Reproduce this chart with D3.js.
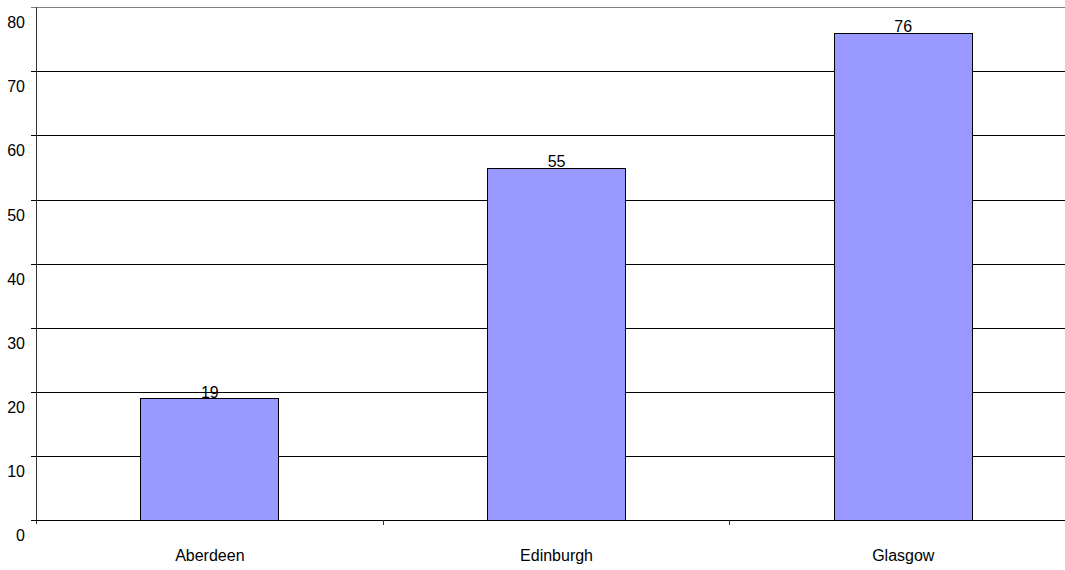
<!DOCTYPE html>
<html><head><meta charset="utf-8">
<script src="https://cdn.jsdelivr.net/npm/d3@7"></script>
<style>body{margin:0;background:#fff}svg{display:block}text{font-family:"Liberation Sans",Arial,sans-serif}</style>
</head><body><svg id="c" width="1065" height="570"></svg>
<script>
const categories = ["Aberdeen", "Edinburgh", "Glasgow"];
const values = [19, 55, 76];
const yTicks = [0, 10, 20, 30, 40, 50, 60, 70, 80];

const svg = d3.select("#c");
const x0 = 36.5, bw = 346.7;
const x = d3.scaleBand().domain(categories).range([x0, x0 + bw * 3]).paddingInner(0).paddingOuter(0);
const y = d3.scaleLinear().domain([0, 80]).range([520, 7.3]);

// gridlines
svg.append("g").selectAll("line").data(yTicks.filter(d => d > 0)).join("line")
  .attr("x1", 31).attr("x2", 1065)
  .attr("y1", d => Math.round(y(d)) + 0.5).attr("y2", d => Math.round(y(d)) + 0.5)
  .attr("stroke", d => d === 80 ? "#808080" : "#000").attr("stroke-width", 1);

// bars
const barW = 138;
svg.append("g").selectAll("rect").data(values).join("rect")
  .attr("x", (d, i) => Math.floor(x(categories[i]) + bw / 2 - barW / 2) + 0.5)
  .attr("y", d => Math.round(y(d)) + 0.5)
  .attr("width", barW)
  .attr("height", d => Math.round(y(0)) - Math.round(y(d)))
  .attr("fill", "#9999ff").attr("stroke", "#000").attr("stroke-width", 1);

// value labels
svg.append("g").selectAll("text").data(values).join("text")
  .attr("x", (d, i) => x(categories[i]) + bw / 2)
  .attr("y", d => y(d) - 0.5)
  .attr("text-anchor", "middle").attr("font-size", 16).attr("fill", "#000")
  .text(d => d);

// axes lines
svg.append("line").attr("x1", 36.5).attr("x2", 36.5).attr("y1", 7).attr("y2", 524)
  .attr("stroke", "#333").attr("stroke-width", 1);
svg.append("line").attr("x1", 31).attr("x2", 1065).attr("y1", 520.5).attr("y2", 520.5)
  .attr("stroke", "#000").attr("stroke-width", 1);

// y labels
svg.append("g").selectAll("text").data(yTicks).join("text")
  .attr("x", 25).attr("y", d => y(d) + 21)
  .attr("text-anchor", "end").attr("font-size", 16).attr("fill", "#000")
  .text(d => d);

// x category ticks
svg.append("g").selectAll("line").data([1, 2]).join("line")
  .attr("x1", d => Math.floor(x0 + bw * d) + 0.5).attr("x2", d => Math.floor(x0 + bw * d) + 0.5)
  .attr("y1", 520).attr("y2", 525).attr("stroke", "#333");

// x labels
svg.append("g").selectAll("text").data(categories).join("text")
  .attr("x", d => x(d) + bw / 2).attr("y", 561)
  .attr("text-anchor", "middle").attr("font-size", 16).attr("fill", "#000")
  .text(d => d);
</script></body></html>
